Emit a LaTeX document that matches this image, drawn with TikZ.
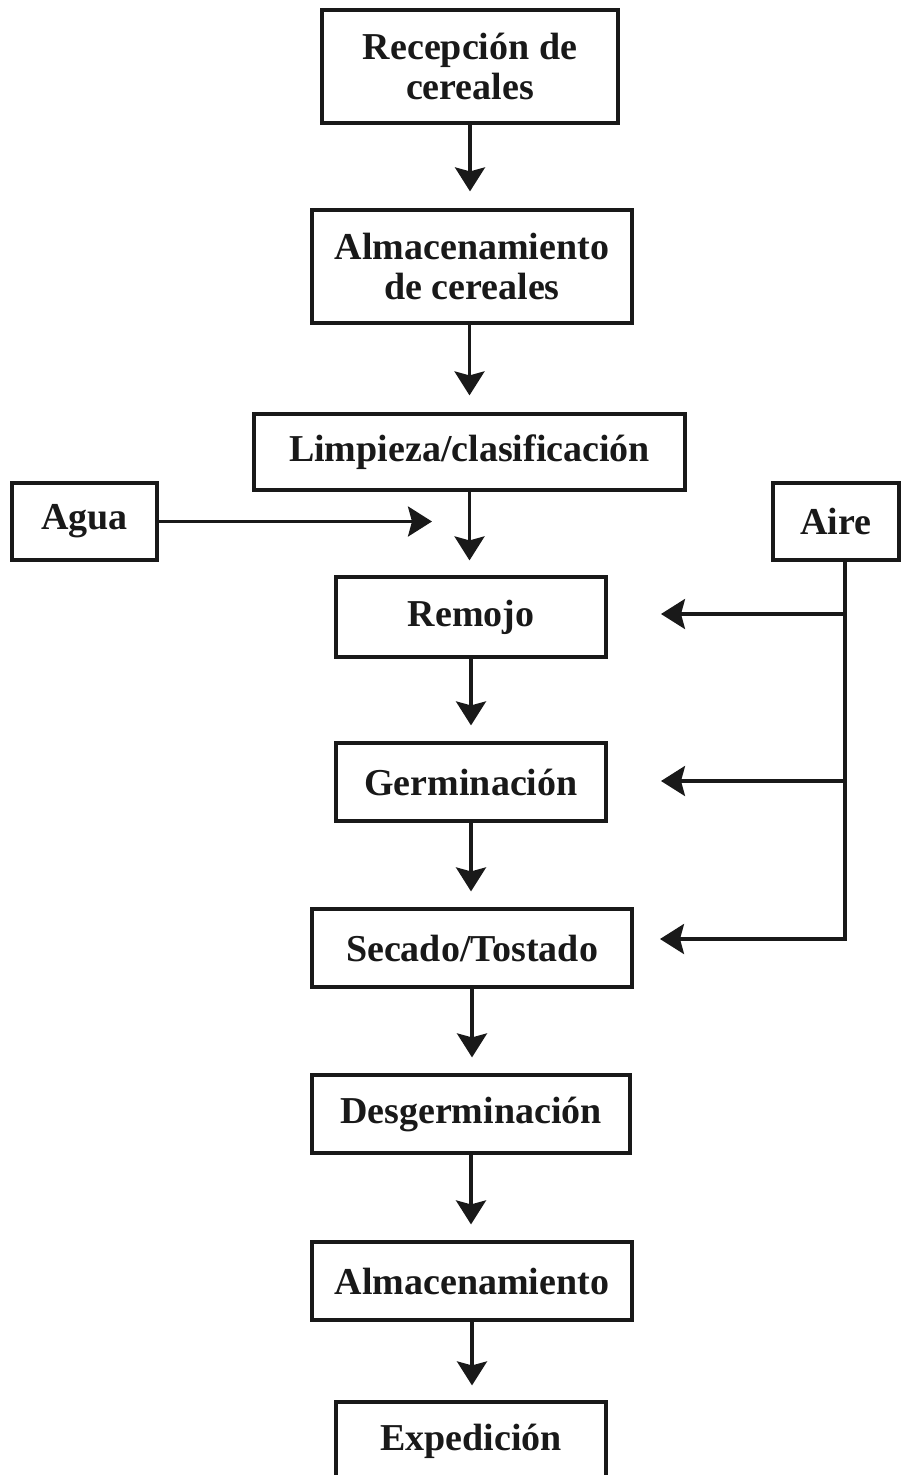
\documentclass[tikz,border=0pt]{standalone}
\usepackage{fontspec}
\setmainfont{Liberation Serif}
\usetikzlibrary{arrows.meta}
\begin{document}
\begin{tikzpicture}[x=1pt,y=-1pt,
  box/.style={draw=black!90, line width=3.2pt, inner sep=0pt, align=center,
    font=\fontsize{38}{40}\selectfont\bfseries, text=black!90},
  conn/.style={line width=3.2pt, draw=black!90},
  arr/.style={conn, -{Stealth[length=24pt,width=30pt,inset=4pt]}}]
\useasboundingbox (0,0) rectangle (904,1475);
\clip (0,0) rectangle (904,1475);
\node[box, minimum width=296, minimum height=113] (rec) at (470,66.5) {Recepción de\\cereales};
\node[box, minimum width=320, minimum height=113] (alm1) at (472,266.5) {Almacenamiento\\de cereales};
\node[box, minimum width=431, minimum height=76] (lim) at (469.5,452) {Limpieza/clasificación};
\node[box, minimum width=145, minimum height=77] (agua) at (84.5,521.5) {Agua};
\node[box, minimum width=126, minimum height=77] (aire) at (836,521.5) {Aire};
\node[box, minimum width=270, minimum height=80] (rem) at (471,617) {Remojo};
\node[box, minimum width=270, minimum height=78] (ger) at (471,782) {Germinación};
\node[box, minimum width=320, minimum height=78] (sec) at (472,948) {Secado/Tostado};
\node[box, minimum width=318, minimum height=78] (des) at (471,1114) {Desgerminación};
\node[box, minimum width=320, minimum height=78] (alm2) at (472,1281) {Almacenamiento};
\node[box, minimum width=270, minimum height=78] (exp) at (471,1441) {Expedición};
% flow arrows
\draw[arr, shorten >=17pt] (rec.south) -- (rec.south |- alm1.north);
\draw[arr, shorten >=17pt] (alm1.south -| lim.south) -- (lim.north);
\draw[arr, shorten >=15pt] (lim.south) -- (lim.south |- rem.north);
\draw[arr, shorten >=16pt] (rem.south) -- (ger.north);
\draw[arr, shorten >=16pt] (ger.south) -- (ger.south |- sec.north);
\draw[arr, shorten >=16pt] (sec.south) -- (sec.south |- des.north);
\draw[arr, shorten >=16pt] (des.south) -- (des.south |- alm2.north);
\draw[arr, shorten >=15pt] (alm2.south) -- (alm2.south |- exp.north);
% Agua
\coordinate (aguatip) at (432,521.5);
\draw[arr] (agua.east) -- (aguatip);
% Aire
\coordinate (bus) at (845,560);
\coordinate (busend) at (845,939);
\coordinate (tipr) at (661,614);
\coordinate (tipg) at (661,781);
\coordinate (tips) at (660,939);
\draw[conn] (bus |- aire.south) -- ([yshift=1.6pt]busend);
\draw[arr] (bus |- tipr) -- (tipr);
\draw[arr] (bus |- tipg) -- (tipg);
\draw[arr] ([xshift=1.6pt]bus |- tips) -- (tips);
\end{tikzpicture}
\end{document}
